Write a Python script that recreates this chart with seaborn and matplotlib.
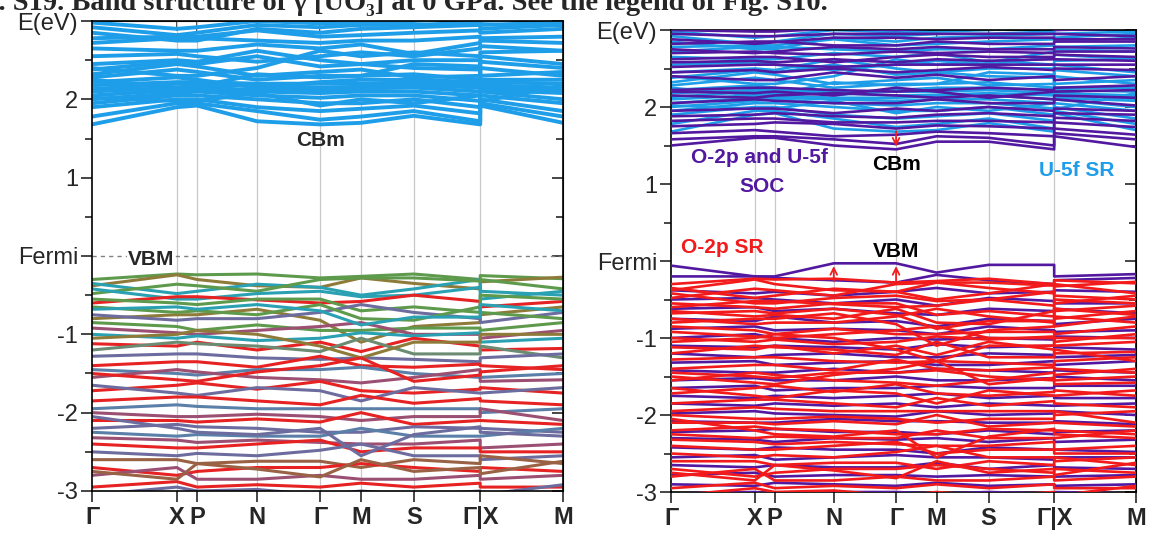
import matplotlib
matplotlib.use("Agg")
import matplotlib.pyplot as plt
from matplotlib.ticker import MultipleLocator
import pandas as pd
import seaborn as sns

# ---------------- data ----------------
k_labels = ["Γ", "X", "P", "N", "Γ", "M", "S", "Γ|X", "M"]
k_ticks = [0.0, 0.180, 0.223, 0.350, 0.484, 0.571, 0.683, 0.824, 1.0]
# band path: Γ X P N Γ M S Γ | X M  (jump at Γ|X)
k_band = [0.0, 0.180, 0.223, 0.350, 0.484, 0.571, 0.683, 0.824, 0.824, 1.0]

y_ticks = [-3, -2, -1, 0, 1, 2, 3]
y_ticklabels = ["-3", "-2", "-1", "Fermi", "1", "2", "E(eV)"]

# scalar-relativistic conduction bands (U-5f)
cb_sr = [
    [1.68, 1.90, 1.92, 1.72, 1.68, 1.70, 1.79, 1.68, 1.92, 1.70],
    [1.78, 1.95, 1.95, 1.85, 1.74, 1.78, 1.85, 1.72, 1.95, 1.78],
    [1.90, 2.00, 2.00, 1.90, 1.85, 1.88, 1.92, 1.82, 2.00, 1.85],
    [1.95, 2.05, 2.05, 2.00, 1.95, 1.95, 2.00, 1.90, 2.05, 1.95],
    [2.00, 2.08, 2.10, 2.05, 2.02, 2.05, 2.05, 1.98, 2.10, 2.00],
    [2.05, 2.12, 2.12, 2.10, 2.08, 2.10, 2.10, 2.05, 2.12, 2.08],
    [2.10, 2.15, 2.15, 2.12, 2.12, 2.14, 2.15, 2.10, 2.15, 2.12],
    [2.13, 2.20, 2.18, 2.18, 2.15, 2.16, 2.18, 2.15, 2.18, 2.15],
    [2.18, 2.22, 2.22, 2.20, 2.20, 2.20, 2.22, 2.18, 2.22, 2.20],
    [2.22, 2.28, 2.25, 2.15, 2.22, 2.25, 2.25, 2.22, 2.25, 2.25],
    [2.28, 2.38, 2.35, 2.25, 2.30, 2.30, 2.32, 2.25, 2.40, 2.30],
    [2.32, 2.45, 2.42, 2.30, 2.35, 2.38, 2.28, 2.30, 2.48, 2.40],
    [2.38, 2.48, 2.45, 2.55, 2.42, 2.45, 2.40, 2.38, 2.55, 2.45],
    [2.45, 2.50, 2.48, 2.62, 2.50, 2.45, 2.50, 2.50, 2.60, 2.62],
    [2.55, 2.58, 2.55, 2.48, 2.55, 2.60, 2.55, 2.65, 2.68, 2.62],
    [2.65, 2.62, 2.62, 2.70, 2.65, 2.70, 2.58, 2.72, 2.75, 2.72],
    [2.72, 2.78, 2.78, 2.75, 2.72, 2.75, 2.75, 2.80, 2.78, 2.80],
    [2.78, 2.80, 2.80, 2.88, 2.80, 2.82, 2.85, 2.88, 2.85, 2.90],
    [2.85, 2.75, 2.75, 2.90, 2.85, 2.90, 2.92, 2.95, 2.90, 2.95],
    [2.92, 2.82, 2.85, 2.95, 2.92, 2.95, 2.95, 2.98, 2.95, 2.98],
    [2.98, 2.90, 2.92, 3.00, 2.97, 2.98, 3.00, 3.05, 3.00, 3.05],
    [2.40, 2.30, 2.30, 2.40, 2.62, 2.55, 2.60, 2.55, 2.30, 2.35],
    [2.02, 1.98, 1.98, 2.08, 1.92, 2.00, 1.95, 2.05, 1.97, 2.18],
    [2.25, 2.15, 2.16, 2.32, 2.28, 2.30, 2.45, 2.42, 2.20, 2.10],
]

# scalar-relativistic valence bands (O-2p), with projected colour of each band
vb_sr = [
    [-0.30, -0.23, -0.24, -0.23, -0.28, -0.26, -0.23, -0.30, -0.25, -0.29],
    [-0.38, -0.24, -0.30, -0.38, -0.40, -0.28, -0.35, -0.42, -0.33, -0.27],
    [-0.35, -0.48, -0.45, -0.36, -0.40, -0.50, -0.42, -0.30, -0.45, -0.50],
    [-0.48, -0.36, -0.38, -0.45, -0.30, -0.28, -0.28, -0.32, -0.30, -0.42],
    [-0.42, -0.55, -0.55, -0.48, -0.45, -0.52, -0.50, -0.40, -0.55, -0.45],
    [-0.60, -0.52, -0.52, -0.56, -0.60, -0.58, -0.50, -0.58, -0.65, -0.58],
    [-0.55, -0.60, -0.62, -0.55, -0.55, -0.70, -0.65, -0.72, -0.50, -0.55],
    [-0.80, -0.75, -0.75, -0.68, -0.82, -1.10, -0.90, -0.85, -0.75, -0.65],
    [-0.75, -0.82, -0.80, -0.80, -0.72, -0.62, -0.72, -0.80, -0.85, -0.72],
    [-0.85, -0.90, -0.95, -0.88, -0.95, -0.95, -0.92, -0.92, -0.95, -0.85],
    [-0.92, -0.98, -1.00, -0.95, -0.90, -0.85, -1.00, -1.00, -1.05, -0.95],
    [-1.00, -1.05, -1.02, -1.08, -1.05, -0.98, -1.02, -0.98, -1.10, -1.05],
    [-1.12, -1.15, -1.10, -1.20, -1.10, -1.22, -1.05, -1.15, -1.20, -1.18],
    [-1.20, -1.10, -1.12, -1.15, -1.22, -1.05, -1.25, -1.25, -1.15, -1.30],
    [-1.28, -1.25, -1.25, -1.30, -1.32, -1.30, -1.32, -1.35, -1.30, -1.25],
    [-1.40, -1.35, -1.35, -1.42, -1.28, -1.40, -1.42, -1.38, -1.40, -1.45],
    [-1.45, -1.50, -1.52, -1.45, -1.45, -1.42, -1.50, -1.55, -1.55, -1.50],
    [-1.55, -1.45, -1.48, -1.55, -1.58, -1.62, -1.55, -1.45, -1.60, -1.58],
    [-1.72, -1.65, -1.62, -1.70, -1.60, -1.72, -1.75, -1.70, -1.68, -1.75],
    [-1.65, -1.75, -1.78, -1.68, -1.72, -1.85, -1.68, -1.75, -1.75, -1.68],
    [-1.85, -1.80, -1.80, -1.85, -1.90, -1.78, -1.88, -1.82, -1.85, -1.90],
    [-1.95, -1.90, -1.92, -1.95, -1.95, -1.95, -1.95, -1.95, -2.00, -1.95],
    [-2.00, -2.05, -2.05, -2.02, -2.05, -2.10, -2.05, -2.05, -1.95, -2.10],
    [-2.10, -2.10, -2.12, -2.08, -2.12, -2.00, -2.15, -2.10, -2.10, -2.15],
    [-2.20, -2.15, -2.18, -2.20, -2.25, -2.25, -2.18, -2.20, -2.20, -2.25],
    [-2.25, -2.30, -2.28, -2.30, -2.30, -2.20, -2.30, -2.30, -2.30, -2.20],
    [-2.32, -2.35, -2.38, -2.35, -2.38, -2.40, -2.40, -2.35, -2.45, -2.40],
    [-2.40, -2.45, -2.45, -2.40, -2.35, -2.50, -2.45, -2.45, -2.50, -2.50],
    [-2.50, -2.55, -2.52, -2.55, -2.48, -2.40, -2.55, -2.55, -2.60, -2.55],
    [-2.60, -2.60, -2.65, -2.62, -2.62, -2.70, -2.60, -2.65, -2.55, -2.65],
    [-2.70, -2.80, -2.75, -2.70, -2.70, -2.65, -2.70, -2.75, -2.70, -2.75],
    [-2.80, -2.70, -2.85, -2.85, -2.80, -2.85, -2.85, -2.80, -2.85, -2.80],
    [-2.95, -2.88, -2.95, -2.92, -2.95, -2.90, -2.95, -2.90, -2.95, -2.95],
    [-3.05, -2.95, -3.00, -2.98, -3.05, -3.00, -3.05, -3.00, -3.05, -2.92],
    [-0.65, -0.72, -0.70, -0.75, -0.62, -0.80, -0.82, -0.65, -0.72, -0.80],
    [-0.68, -0.65, -0.68, -0.62, -0.70, -0.88, -0.78, -0.78, -0.62, -0.70],
    [-1.05, -1.00, -0.95, -1.00, -1.15, -1.30, -1.10, -1.10, -1.00, -1.00],
    [-1.50, -1.58, -1.60, -1.48, -1.40, -1.30, -1.60, -1.52, -1.48, -1.40],
    [-2.05, -2.20, -2.25, -2.28, -2.20, -2.55, -2.28, -2.18, -2.25, -2.30],
    [-2.75, -2.85, -2.65, -2.72, -2.82, -2.60, -2.75, -2.70, -2.78, -2.62],
]
vb_sr_proj = ["G", "O", "T", "G", "T", "R", "G", "O", "S", "G",
              "M", "T", "R", "GG", "S", "R", "B", "M", "R", "S",
              "R", "B", "M", "R", "S", "B", "M", "R", "S", "BR",
              "R", "M", "R", "S", "G", "T", "O", "R", "S", "BR"]

# spin-orbit coupled bands (O-2p and U-5f)
cb_soc = [
    [1.50, 1.60, 1.60, 1.50, 1.45, 1.55, 1.55, 1.45, 1.62, 1.48],
    [1.58, 1.62, 1.62, 1.58, 1.52, 1.62, 1.60, 1.50, 1.66, 1.58],
    [1.66, 1.70, 1.68, 1.62, 1.64, 1.68, 1.66, 1.62, 1.72, 1.64],
    [1.75, 1.78, 1.80, 1.78, 1.72, 1.76, 1.75, 1.72, 1.80, 1.74],
    [1.82, 1.85, 1.85, 1.80, 1.80, 1.82, 1.82, 1.80, 1.86, 1.82],
    [1.88, 1.90, 1.92, 1.88, 1.86, 1.90, 1.92, 1.88, 1.92, 1.90],
    [1.95, 1.98, 1.98, 1.92, 1.98, 1.95, 2.00, 1.95, 1.98, 1.95],
    [2.05, 2.10, 2.08, 2.05, 2.05, 2.10, 2.05, 2.05, 2.10, 2.02],
    [2.15, 2.12, 2.15, 2.18, 2.15, 2.12, 2.15, 2.10, 2.15, 2.12],
    [2.20, 2.18, 2.20, 2.15, 2.25, 2.20, 2.12, 2.20, 2.20, 2.22],
    [2.22, 2.25, 2.25, 2.22, 2.20, 2.22, 2.25, 2.22, 2.25, 2.28],
    [2.40, 2.35, 2.35, 2.45, 2.38, 2.42, 2.35, 2.40, 2.35, 2.40],
    [2.45, 2.48, 2.45, 2.50, 2.45, 2.48, 2.52, 2.48, 2.50, 2.48],
    [2.52, 2.55, 2.55, 2.52, 2.55, 2.55, 2.55, 2.55, 2.55, 2.55],
    [2.58, 2.60, 2.58, 2.62, 2.58, 2.62, 2.60, 2.62, 2.62, 2.60],
    [2.62, 2.65, 2.65, 2.58, 2.65, 2.68, 2.65, 2.65, 2.68, 2.65],
    [2.70, 2.72, 2.70, 2.68, 2.72, 2.70, 2.72, 2.70, 2.72, 2.72],
    [2.75, 2.70, 2.72, 2.78, 2.75, 2.78, 2.75, 2.75, 2.78, 2.76],
    [2.82, 2.85, 2.85, 2.80, 2.80, 2.85, 2.82, 2.82, 2.85, 2.85],
    [2.88, 2.82, 2.84, 2.90, 2.90, 2.88, 2.90, 2.90, 2.88, 2.88],
    [2.95, 2.92, 2.92, 2.95, 2.95, 2.95, 2.95, 2.95, 2.95, 2.92],
    [3.00, 2.98, 2.98, 3.02, 3.00, 3.02, 3.02, 3.05, 3.00, 3.02],
]
vb_soc = [
    [-0.06, -0.20, -0.20, -0.03, -0.03, -0.15, -0.05, -0.05, -0.20, -0.17],
    [-0.20, -0.20, -0.22, -0.25, -0.28, -0.18, -0.25, -0.30, -0.25, -0.22],
    [-0.38, -0.42, -0.40, -0.45, -0.40, -0.35, -0.42, -0.40, -0.38, -0.40],
    [-0.50, -0.48, -0.50, -0.55, -0.50, -0.58, -0.48, -0.52, -0.55, -0.55],
    [-0.62, -0.60, -0.65, -0.62, -0.68, -0.70, -0.62, -0.65, -0.62, -0.68],
    [-0.75, -0.78, -0.72, -0.80, -0.78, -0.85, -0.75, -0.78, -0.82, -0.75],
    [-0.88, -0.85, -0.90, -0.88, -0.90, -0.95, -0.85, -0.90, -0.92, -0.90],
    [-1.00, -0.95, -1.00, -1.05, -1.00, -1.02, -1.00, -1.02, -0.98, -1.00],
    [-1.10, -1.12, -1.10, -1.12, -1.15, -1.08, -1.12, -1.10, -1.12, -1.15],
    [-1.20, -1.25, -1.22, -1.20, -1.25, -1.25, -1.20, -1.22, -1.25, -1.22],
    [-1.32, -1.30, -1.35, -1.32, -1.30, -1.35, -1.35, -1.30, -1.35, -1.30],
    [-1.42, -1.45, -1.45, -1.40, -1.45, -1.40, -1.42, -1.45, -1.42, -1.45],
    [-1.55, -1.52, -1.55, -1.55, -1.50, -1.55, -1.55, -1.52, -1.50, -1.55],
    [-1.65, -1.62, -1.68, -1.65, -1.65, -1.62, -1.65, -1.65, -1.62, -1.62],
    [-1.75, -1.78, -1.75, -1.78, -1.75, -1.72, -1.78, -1.75, -1.78, -1.78],
    [-1.85, -1.88, -1.85, -1.88, -1.85, -1.90, -1.85, -1.88, -1.88, -1.85],
    [-1.98, -1.95, -1.98, -2.00, -2.02, -1.95, -2.00, -1.98, -1.95, -2.00],
    [-2.08, -2.10, -2.10, -2.05, -2.08, -2.08, -2.10, -2.10, -2.08, -2.12],
    [-2.22, -2.20, -2.18, -2.22, -2.22, -2.25, -2.20, -2.25, -2.22, -2.20],
    [-2.30, -2.32, -2.35, -2.30, -2.32, -2.30, -2.35, -2.30, -2.35, -2.32],
    [-2.42, -2.45, -2.42, -2.45, -2.45, -2.50, -2.42, -2.45, -2.45, -2.48],
    [-2.55, -2.52, -2.58, -2.55, -2.52, -2.55, -2.55, -2.58, -2.55, -2.55],
    [-2.65, -2.68, -2.65, -2.68, -2.68, -2.62, -2.70, -2.65, -2.68, -2.70],
    [-2.78, -2.75, -2.80, -2.78, -2.78, -2.80, -2.78, -2.80, -2.80, -2.78],
    [-2.90, -2.92, -2.88, -2.90, -2.92, -2.88, -2.92, -2.90, -2.92, -2.90],
    [-3.02, -3.00, -3.02, -3.00, -3.00, -3.02, -3.00, -3.02, -3.00, -3.02],
]

# ---------------- styles ----------------
proj_colors = {"G": "#5E9A4C", "T": "#2AA1B3", "O": "#8E7B3A", "R": "#E62222",
               "S": "#6D6C9F", "B": "#5A7FA8", "M": "#9B4F72", "GG": "#6B8C72",
               "BR": "#996245"}
C_SR_CB = "#1E9EE8"
C_SOC = "#5219A0"
C_SR_VB = "#F21A1A"

sns.set_style("white")
plt.rcParams["font.family"] = ["Liberation Sans", "DejaVu Sans"]


def long_df(bands, prefix):
    rows = []
    for i, b in enumerate(bands):
        for k, e in zip(k_band, b):
            rows.append({"band": f"{prefix}{i}", "k": k, "E": e})
    return pd.DataFrame(rows)


def draw(ax, bands, prefix, colors, lw, z):
    df = long_df(bands, prefix)
    if isinstance(colors, str):
        pal = {f"{prefix}{i}": colors for i in range(len(bands))}
    else:
        pal = {f"{prefix}{i}": c for i, c in enumerate(colors)}
    sns.lineplot(data=df, x="k", y="E", hue="band", units="band", estimator=None,
                 sort=False, palette=pal, legend=False, lw=lw, ax=ax, zorder=z)


def style_axes(ax):
    ax.set_xlim(0, 1)
    ax.set_ylim(-3, 3)
    for kx in k_ticks[1:-1]:
        ax.axvline(kx, color="#C8C8C8", lw=0.9, zorder=0.5)
    ax.set_xticks(k_ticks)
    ax.set_xticklabels(k_labels, fontsize=17, fontweight="bold")
    ax.set_yticks(y_ticks)
    ax.set_yticklabels(y_ticklabels, fontsize=17)
    ax.yaxis.set_minor_locator(MultipleLocator(0.5))
    ax.tick_params(axis="y", which="major", direction="out", length=8, width=1.2, left=True, pad=2)
    ax.tick_params(axis="y", which="minor", direction="out", length=5, width=1.2, left=True)
    ax.tick_params(axis="x", which="major", direction="out", length=8, width=1.2, bottom=True, pad=3)
    ax.set_xlabel("")
    ax.set_ylabel("")
    for s in ax.spines.values():
        s.set_linewidth(1.2)
        s.set_color("black")
    sec = ax.secondary_yaxis("right")
    sec.set_yticks(y_ticks)
    sec.yaxis.set_minor_locator(MultipleLocator(0.5))
    sec.set_yticklabels([])
    sec.tick_params(axis="y", which="major", direction="in", length=8, width=1.2)
    sec.tick_params(axis="y", which="minor", direction="in", length=5, width=1.2)
    secx = ax.secondary_xaxis("top")
    secx.set_xticks(k_ticks[1:-1])
    secx.set_xticklabels([])
    secx.tick_params(axis="x", direction="in", length=7, width=1.2)


fig = plt.figure(figsize=(11.49, 5.33), dpi=100)
axL = fig.add_axes([0.0801, 0.0788, 0.410, 0.8818])
axR = fig.add_axes([0.584, 0.0769, 0.4047, 0.8668])

# left: scalar relativistic projected bands
draw(axL, cb_sr, "c", C_SR_CB, 2.8, 2)
draw(axL, vb_sr, "v", [proj_colors[p] for p in vb_sr_proj], 2.2, 2)
axL.axhline(0, color="#808080", lw=1.0, ls=(0, (3, 3)), zorder=1)
style_axes(axL)
axL.text(0.484, 1.47, "CBm", fontsize=15, fontweight="bold", ha="center", va="center")
axL.text(0.125, -0.05, "VBM", fontsize=15, fontweight="bold", ha="center", va="center",
         bbox=dict(facecolor="white", edgecolor="none", pad=0.5), zorder=3)

# right: SR vs SOC comparison
draw(axR, cb_sr, "c", C_SR_CB, 1.9, 2)
draw(axR, cb_soc, "s", C_SOC, 1.9, 3)
draw(axR, vb_soc, "w", C_SOC, 1.9, 3)
draw(axR, vb_sr, "v", C_SR_VB, 1.9, 4)
style_axes(axR)
arrow = dict(arrowstyle="->", color="#F01E1E", lw=1.3, mutation_scale=12)
axR.annotate("", xy=(0.350, -0.03), xytext=(0.350, -0.30), arrowprops=arrow, zorder=6)
axR.annotate("", xy=(0.484, -0.03), xytext=(0.484, -0.30), arrowprops=arrow, zorder=6)
axR.annotate("", xy=(0.484, 1.45), xytext=(0.484, 1.72), arrowprops=arrow, zorder=6)
axR.text(0.19, 1.35, "O-2p and U-5f", fontsize=15, fontweight="bold", color=C_SOC, ha="center", va="center")
axR.text(0.195, 0.97, "SOC", fontsize=15, fontweight="bold", color=C_SOC, ha="center", va="center")
axR.text(0.11, 0.17, "O-2p SR", fontsize=15, fontweight="bold", color=C_SR_VB, ha="center", va="center")
axR.text(0.485, 1.25, "CBm", fontsize=15, fontweight="bold", color="black", ha="center", va="center")
axR.text(0.485, 0.13, "VBM", fontsize=15, fontweight="bold", color="black", ha="center", va="center")
axR.text(0.872, 1.17, "U-5f SR", fontsize=15, fontweight="bold", color=C_SR_CB, ha="center", va="center")

# caption (cropped at top like the source page)
fig.text(-0.036, 0.981, "Fig. S19. Band structure of γ [UO₃] at 0 GPa. See the legend of Fig. S10.",
         fontsize=20.5, fontweight="bold", family=["Liberation Serif", "DejaVu Serif"],
         ha="left", va="baseline")

fig.savefig("out.png", dpi=100)
